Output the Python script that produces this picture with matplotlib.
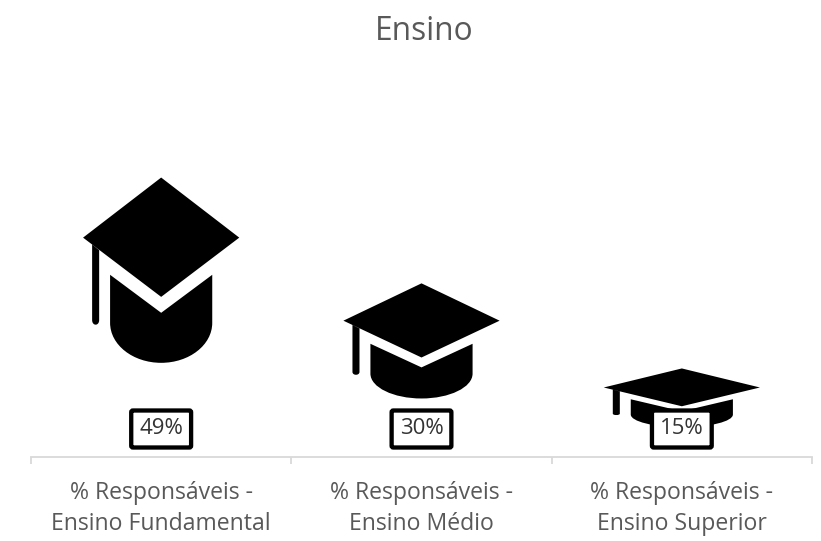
import numpy as np
import matplotlib
matplotlib.use("Agg")
import matplotlib.pyplot as plt
from matplotlib.path import Path
from matplotlib.patches import PathPatch

plt.rcParams['font.family'] = ['Open Sans', 'DejaVu Sans']

categories = ["% Responsáveis -\nEnsino Fundamental", "% Responsáveis -\nEnsino Médio", "% Responsáveis -\nEnsino Superior"]
values = [48.6, 30.2, 15.4]
title = "Ensino"

M, L, C, Z = Path.MOVETO, Path.LINETO, Path.CURVE4, Path.CLOSEPOLY
# Mortarboard icon in unit coordinates (fraction of bar width / bar height)
icon_verts = [
    (0, .785), (.5, 1), (1, .785), (.5, .573), (0, .785),
    (.058, .76), (.103, .74), (.103, .490), (.103, .468), (.058, .468), (.058, .490), (.058, .76),
    (.173, .652), (.5, .516), (.827, .652), (.827, .48),
    (.827, .401), (.68, .337), (.5, .337), (.32, .337), (.173, .401), (.173, .48), (.173, .652),
]
icon_codes = [M, L, L, L, Z, M, L, L, C, C, C, Z, M, L, L, L, C, C, C, C, C, C, Z]

fig = plt.figure(figsize=(8.21, 5.41), dpi=100, facecolor='white')
ax = fig.add_axes([31 / 821, (541 - 457) / 541, (812 - 31) / 821, 345 / 541])
ax.set_xlim(-0.5, 2.5)
ax.set_ylim(0, 60)

bar_width = 0.6
for i, v in enumerate(values):
    verts = np.array(icon_verts) * [bar_width, v] + [i - bar_width / 2, 0]
    ax.add_patch(PathPatch(Path(verts, icon_codes), fc='black', ec='none', zorder=2))
    ax.annotate(f"{v:.0f}%", (i, 0), xytext=(0, 28 * 0.72), textcoords='offset points',
                ha='center', va='center', fontsize=16, color='#333333', zorder=5,
                bbox=dict(boxstyle='round,pad=0.36,rounding_size=0.08', fc='white', ec='black', lw=3.1))

for s in ['top', 'left', 'right']:
    ax.spines[s].set_visible(False)
ax.spines['bottom'].set_color('#d9d9d9')
ax.spines['bottom'].set_linewidth(1.3)
ax.set_yticks([])
ax.set_xticks(range(len(categories)))
ax.set_xticklabels(categories, fontsize=16.6, color='#595959', linespacing=1.42)
ax.set_xticks(np.arange(len(categories) + 1) - 0.5, minor=True)
ax.tick_params(axis='x', which='major', length=0, pad=17)
ax.tick_params(axis='x', which='minor', length=5, width=1.3, color='#d9d9d9')
fig.text(424 / 821, 1 - 31 / 541, title, ha='center', va='center', fontsize=22.8, color='#595959')

fig.savefig('out.png', dpi=100, facecolor='white')
